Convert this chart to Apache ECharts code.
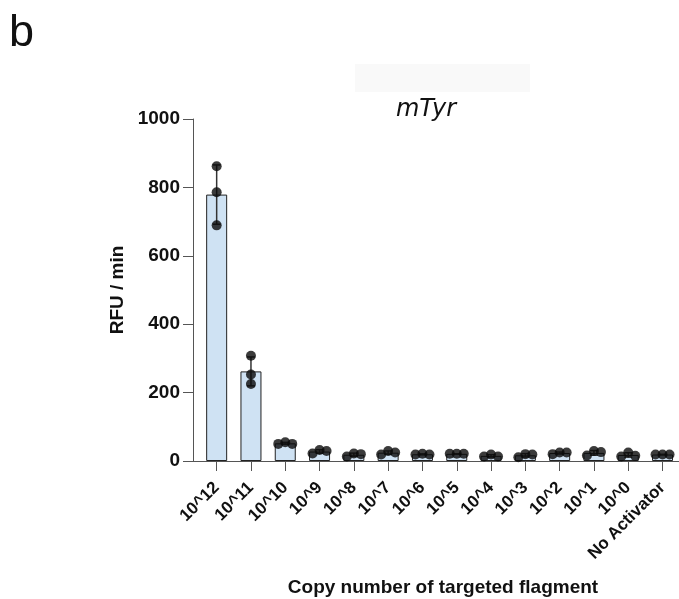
<!DOCTYPE html>
<html><head><meta charset="utf-8">
<script src="https://cdn.jsdelivr.net/npm/echarts@6/dist/echarts.min.js"></script>
<style>html,body{margin:0;padding:0;background:#fff}#c{width:679px;height:599px}</style>
</head><body><div id="c"></div>
<script>
const categories = ['10^12','10^11','10^10','10^9','10^8','10^7','10^6','10^5','10^4','10^3','10^2','10^1','10^0','No Activator'];
const rep1 = [862, 308, 50, 22, 13, 19, 19, 21, 13, 11, 20, 16, 13, 19];
const rep2 = [786, 253, 55, 32, 22, 29, 21, 21, 19, 20, 25, 29, 25, 19];
const rep3 = [689, 225, 50, 29, 20, 25, 19, 21, 13, 19, 25, 26, 15, 19];
const yTicks = [0, 200, 400, 600, 800, 1000];

const reps = [rep1, rep2, rep3];
const means = categories.map((_, i) => (rep1[i] + rep2[i] + rep3[i]) / 3);
const sds = categories.map((_, i) => {
  const m = means[i];
  const s = reps.reduce((a, r) => a + (r[i] - m) * (r[i] - m), 0);
  return Math.sqrt(s / 2);
});
const idx = categories.map((_, i) => i);
const FONT = "'Liberation Sans', Arial, sans-serif";
const jitter = [-7, 0, 7];

const chart = echarts.init(document.getElementById('c'), null, {renderer: 'canvas'});
const scatterSeries = reps.map((r, k) => ({
  type: 'scatter',
  z: 5,
  symbol: 'circle',
  symbolSize: 10,
  itemStyle: {color: '#0a0a0a'},
  data: r.map((v, i) => ({value: [i, v], symbolOffset: [i < 2 ? 0 : jitter[k], 0]}))
}));

chart.setOption({
  animation: false,
  backgroundColor: '#fff',
  grid: {left: 193, top: 119, width: 486, height: 342, outerBoundsMode: 'none', containLabel: false},
  graphic: [
    {type: 'rect', left: 355, top: 64, shape: {width: 175, height: 28}, style: {fill: '#f9f9f9'}},
    {type: 'text', left: 9, top: 11, style: {text: 'b', font: "45px " + FONT, fill: '#111'}},
    {type: 'text', x: 426, y: 110, style: {text: 'mTyr', font: "oblique 24px 'DejaVu Sans', sans-serif", fill: '#111', align: 'center', verticalAlign: 'middle'}}
  ],
  xAxis: {
    type: 'value',
    min: -0.69, max: 13.48,
    name: 'Copy number of targeted flagment',
    nameLocation: 'middle',
    nameGap: 117,
    nameTextStyle: {fontFamily: FONT, fontWeight: 'bold', fontSize: 19, color: '#111', padding: [0, 0, 0, 14]},
    axisLine: {show: true, onZero: false, lineStyle: {color: '#555', width: 1}},
    axisTick: {show: true, customValues: idx, length: 10, lineStyle: {color: '#555'}},
    axisLabel: {customValues: idx, formatter: v => categories[v] || '', rotate: 45, fontFamily: FONT, fontWeight: 'bold', fontSize: 17, color: '#111', margin: 24},
    splitLine: {show: false}
  },
  yAxis: {
    type: 'value', min: 0, max: 1000, interval: 200,
    name: 'RFU / min',
    nameLocation: 'middle',
    nameGap: 64,
    nameRotate: 90,
    nameTextStyle: {fontFamily: FONT, fontWeight: 'bold', fontSize: 19, color: '#111'},
    axisLine: {show: true, onZero: false, lineStyle: {color: '#555', width: 1}},
    axisTick: {show: true, length: 10, lineStyle: {color: '#555'}},
    axisLabel: {fontFamily: FONT, fontWeight: 'bold', fontSize: 19, color: '#111', margin: 13, formatter: v => yTicks.includes(v) ? String(v) : ''},
    splitLine: {show: false}
  },
  series: [
    {
      type: 'bar',
      barWidth: 21,
      z: 2,
      itemStyle: {color: '#cfe2f3', borderColor: '#222', borderWidth: 1},
      data: means.map((m, i) => [i, m])
    },
    {
      type: 'custom',
      z: 4,
      encode: {x: 0, y: [1, 2]},
      data: means.map((m, i) => [i, m - sds[i], m + sds[i]]),
      renderItem: (params, api) => {
        const i = params.dataIndex;
        const lo = api.coord([i, means[i] - sds[i]]);
        const hi = api.coord([i, means[i] + sds[i]]);
        const cw = 4;
        const st = {stroke: '#333', lineWidth: 1.5};
        return {type: 'group', children: [
          {type: 'line', shape: {x1: lo[0], y1: lo[1], x2: hi[0], y2: hi[1]}, style: st},
          {type: 'line', shape: {x1: lo[0] - cw, y1: lo[1], x2: lo[0] + cw, y2: lo[1]}, style: st},
          {type: 'line', shape: {x1: hi[0] - cw, y1: hi[1], x2: hi[0] + cw, y2: hi[1]}, style: st}
        ]};
      }
    },
    ...scatterSeries
  ]
});
</script></body></html>
